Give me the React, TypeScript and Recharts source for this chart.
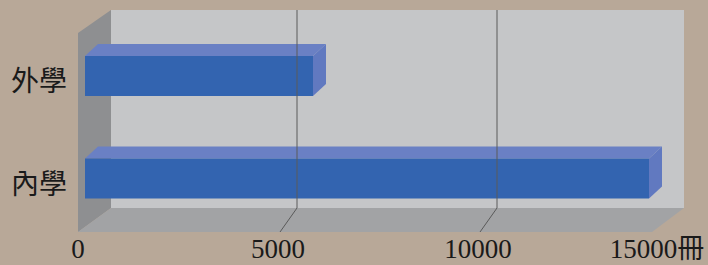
import { BarChart, Bar, XAxis, YAxis, ReferenceLine } from "recharts";

const categories = ["外學", "內學"];
const volumes = [5700, 14100];
const xTicks = [0, 5000, 10000, 15000];
const unitLabel = "冊";

const data = categories.map((name, i) => ({ name, value: volumes[i] }));

const W = 708;
const H = 265;
const FONT = "'Liberation Serif', 'Noto Sans CJK TC', serif";

// 3D box offset of each bar
const DX = 13;
const DY = 12;

function Bar3D(props: any) {
  const { x, y, width, height } = props;
  if (width <= 0) return null;
  const top = `${x},${y} ${x + DX},${y - DY} ${x + width + DX},${y - DY} ${x + width},${y}`;
  const side = `${x + width},${y} ${x + width + DX},${y - DY} ${x + width + DX},${y + height - DY} ${x + width},${y + height}`;
  return (
    <g>
      <polygon points={top} fill="#6a80c4" />
      <polygon points={side} fill="#6179c0" />
      <rect x={x} y={y} width={width} height={height} fill="#3364b0" />
    </g>
  );
}

// gridline: runs down the back wall, then slants forward across the floor
function GridLine3D(props: any) {
  const { x1, x2, y1, y2 } = props;
  const x = (x1 + x2) / 2;
  const top = Math.min(y1, y2) - 15;
  const bottom = Math.max(y1, y2);
  const back = x + 12;
  const front = x - 5;
  return (
    <path
      d={`M${back},${top} L${back},${bottom - 22} L${front},${bottom + 2}`}
      stroke="#5a5a5a"
      strokeWidth={1}
      fill="none"
    />
  );
}

function Walls() {
  return (
    <g>
      <rect x={111} y={10} width={573} height={198} fill="#c5c6c8" />
      <polygon points="78,33 111,10 111,208 78,232" fill="#8e8f91" />
      <polygon points="78,232 111,208 684,208 652,232" fill="#a2a3a5" />
    </g>
  );
}

function XTick(props: any) {
  const { x, payload, index } = props;
  const last = index === xTicks.length - 1;
  return (
    <text
      x={last ? x - 28 : x - 7}
      y={258}
      textAnchor="middle"
      fontFamily={FONT}
      fontSize={27}
      fill="#1a1a1a"
    >
      {last ? `${payload.value}${unitLabel}` : payload.value}
    </text>
  );
}

function YTick(props: any) {
  const { x, y, payload } = props;
  return (
    <text
      x={x - 10}
      y={y + 5}
      dy="0.35em"
      textAnchor="end"
      fontFamily={FONT}
      fontSize={28}
      fill="#1a1a1a"
    >
      {payload.value}
    </text>
  );
}

export default function App() {
  return (
    <div style={{ width: W, height: H, background: "#b8a898" }}>
      <style>{"body{margin:0}"}</style>
      <BarChart
        width={W}
        height={H}
        data={data}
        layout="vertical"
        margin={{ top: 25, right: 23, bottom: 0, left: 0 }}
      >
        <Walls />
        <XAxis
          type="number"
          domain={[0, 15000]}
          ticks={xTicks}
          height={35}
          axisLine={false}
          tickLine={false}
          tick={<XTick />}
        />
        <YAxis
          type="category"
          dataKey="name"
          width={85}
          axisLine={false}
          tickLine={false}
          tick={<YTick />}
        />
        {xTicks.slice(1, 3).map((t) => (
          <ReferenceLine key={t} x={t} shape={<GridLine3D />} />
        ))}
        <Bar dataKey="value" barSize={40} shape={<Bar3D />} isAnimationActive={false} />
      </BarChart>
    </div>
  );
}
